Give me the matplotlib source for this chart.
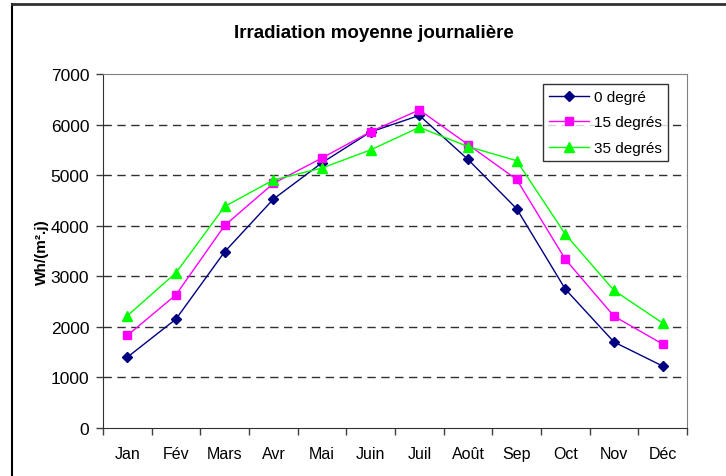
import matplotlib
matplotlib.use('Agg')
import matplotlib.pyplot as plt
from matplotlib.lines import Line2D
import numpy as np

plt.rcParams['font.family'] = ['Liberation Sans', 'DejaVu Sans']

mois = ['Jan', 'Fév', 'Mars', 'Avr', 'Mai', 'Juin', 'Juil', 'Août', 'Sep', 'Oct', 'Nov', 'Déc']
deg0 = [1400, 2155, 3485, 4525, 5245, 5855, 6180, 5310, 4335, 2745, 1700, 1225]
deg15 = [1830, 2635, 4005, 4835, 5340, 5860, 6290, 5605, 4915, 3335, 2210, 1660]
deg35 = [2220, 3070, 4380, 4905, 5140, 5500, 5945, 5565, 5285, 3830, 2720, 2075]
yticks = [0, 1000, 2000, 3000, 4000, 5000, 6000, 7000]

fig = plt.figure(figsize=(7.26, 4.77), dpi=100)
ax = fig.add_axes([0.1419, 0.1006, 0.8044, 0.7422])

x = np.arange(len(mois))
ax.plot(x, deg0, color='#000080', marker='D', markersize=5, lw=1, label='0 degré')
ax.plot(x, deg15, color='#FF00FF', marker='s', markersize=6, lw=1, label='15 degrés')
ax.plot(x, deg35, color='#00FF00', marker='^', markersize=7, lw=1, label='35 degrés')

ax.set_xlim(-0.5, 11.5)
ax.set_ylim(0, 7000)
ax.set_yticks(yticks)
ax.set_xticks(x)
ax.set_xticklabels(mois)
ax.set_xticks(np.arange(-0.5, 12, 1), minor=True)
ax.tick_params(axis='x', which='major', length=0, pad=13, labelsize=11.5)
ax.tick_params(axis='x', which='minor', length=5, width=1, color='#404040', direction='out')
ax.tick_params(axis='y', length=5, width=1, color='#404040', direction='out', pad=5, labelsize=12.5)

for v in yticks[1:-1]:
    ax.axhline(v, color='#303030', lw=1, ls=(0, (6, 4)), zorder=0)

ax.spines['left'].set_color('#303030')
ax.spines['bottom'].set_color('#303030')
ax.spines['top'].set_color('#808080')
ax.spines['right'].set_color('#808080')

ax.set_ylabel('Wh/(m².j)', fontsize=11, fontweight='bold', labelpad=1)
fig.text(0.515, 0.93, 'Irradiation moyenne journalière', ha='center', va='center',
         fontsize=13.5, fontweight='bold')

leg = ax.legend(loc='upper right', bbox_to_anchor=(0.967, 0.972), fontsize=11,
                frameon=True, fancybox=False, borderpad=0.4, handlelength=2.6,
                labelspacing=0.75, handletextpad=0.3, borderaxespad=0)
leg.get_frame().set_edgecolor('black')
leg.get_frame().set_linewidth(1)

# outer chart border (left and top visible)
fig.add_artist(Line2D([12 / 726, 12 / 726], [0, 1 - 5 / 477], color='black', lw=1.5))
fig.add_artist(Line2D([12 / 726, 1], [1 - 5 / 477, 1 - 5 / 477], color='#303030', lw=2))

fig.savefig('out.png', dpi=100)
